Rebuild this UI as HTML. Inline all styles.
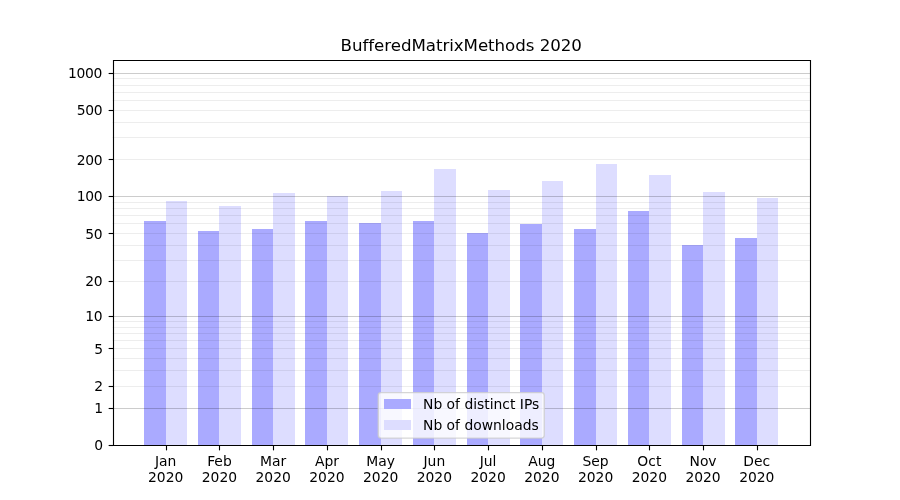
<!DOCTYPE html>
<html><head><meta charset="utf-8"><title>BufferedMatrixMethods 2020</title>
<style>html,body{margin:0;padding:0;background:#fff}body{width:900px;height:500px;overflow:hidden}</style></head>
<body>
<svg width="900" height="500" viewBox="0 0 900 500" style="display:block;font-family:'DejaVu Sans','Liberation Sans',sans-serif;font-variant-ligatures:none">
<rect width="900" height="500" fill="#fff"/>
<g shape-rendering="crispEdges">
<rect x="144" y="221" width="22" height="224" fill="#aaaaff"/>
<rect x="166" y="201" width="21" height="244" fill="#ddddff"/>
<rect x="198" y="231" width="21" height="214" fill="#aaaaff"/>
<rect x="219" y="206" width="22" height="239" fill="#ddddff"/>
<rect x="252" y="229" width="21" height="216" fill="#aaaaff"/>
<rect x="273" y="193" width="22" height="252" fill="#ddddff"/>
<rect x="305" y="221" width="22" height="224" fill="#aaaaff"/>
<rect x="327" y="196" width="21" height="249" fill="#ddddff"/>
<rect x="359" y="223" width="22" height="222" fill="#aaaaff"/>
<rect x="381" y="191" width="21" height="254" fill="#ddddff"/>
<rect x="413" y="221" width="21" height="224" fill="#aaaaff"/>
<rect x="434" y="169" width="22" height="276" fill="#ddddff"/>
<rect x="467" y="233" width="21" height="212" fill="#aaaaff"/>
<rect x="488" y="190" width="22" height="255" fill="#ddddff"/>
<rect x="520" y="224" width="22" height="221" fill="#aaaaff"/>
<rect x="542" y="181" width="21" height="264" fill="#ddddff"/>
<rect x="574" y="229" width="22" height="216" fill="#aaaaff"/>
<rect x="596" y="164" width="21" height="281" fill="#ddddff"/>
<rect x="628" y="211" width="21" height="234" fill="#aaaaff"/>
<rect x="649" y="175" width="22" height="270" fill="#ddddff"/>
<rect x="682" y="245" width="21" height="200" fill="#aaaaff"/>
<rect x="703" y="192" width="22" height="253" fill="#ddddff"/>
<rect x="735" y="238" width="22" height="207" fill="#aaaaff"/>
<rect x="757" y="198" width="21" height="247" fill="#ddddff"/>
</g>
<g stroke-width="1.111" fill="none">
<line x1="112.5" x2="810.0" y1="408.5" y2="408.5" stroke="rgba(0,0,0,0.2)"/>
<line x1="112.5" x2="810.0" y1="386.5" y2="386.5" stroke="rgba(0,0,0,0.07)"/>
<line x1="112.5" x2="810.0" y1="370.5" y2="370.5" stroke="rgba(0,0,0,0.07)"/>
<line x1="112.5" x2="810.0" y1="358.5" y2="358.5" stroke="rgba(0,0,0,0.07)"/>
<line x1="112.5" x2="810.0" y1="348.5" y2="348.5" stroke="rgba(0,0,0,0.07)"/>
<line x1="112.5" x2="810.0" y1="340.5" y2="340.5" stroke="rgba(0,0,0,0.07)"/>
<line x1="112.5" x2="810.0" y1="333.5" y2="333.5" stroke="rgba(0,0,0,0.07)"/>
<line x1="112.5" x2="810.0" y1="327.5" y2="327.5" stroke="rgba(0,0,0,0.07)"/>
<line x1="112.5" x2="810.0" y1="321.5" y2="321.5" stroke="rgba(0,0,0,0.07)"/>
<line x1="112.5" x2="810.0" y1="316.5" y2="316.5" stroke="rgba(0,0,0,0.2)"/>
<line x1="112.5" x2="810.0" y1="281.5" y2="281.5" stroke="rgba(0,0,0,0.07)"/>
<line x1="112.5" x2="810.0" y1="260.5" y2="260.5" stroke="rgba(0,0,0,0.07)"/>
<line x1="112.5" x2="810.0" y1="245.5" y2="245.5" stroke="rgba(0,0,0,0.07)"/>
<line x1="112.5" x2="810.0" y1="233.5" y2="233.5" stroke="rgba(0,0,0,0.07)"/>
<line x1="112.5" x2="810.0" y1="223.5" y2="223.5" stroke="rgba(0,0,0,0.07)"/>
<line x1="112.5" x2="810.0" y1="215.5" y2="215.5" stroke="rgba(0,0,0,0.07)"/>
<line x1="112.5" x2="810.0" y1="208.5" y2="208.5" stroke="rgba(0,0,0,0.07)"/>
<line x1="112.5" x2="810.0" y1="202.5" y2="202.5" stroke="rgba(0,0,0,0.07)"/>
<line x1="112.5" x2="810.0" y1="196.5" y2="196.5" stroke="rgba(0,0,0,0.2)"/>
<line x1="112.5" x2="810.0" y1="159.5" y2="159.5" stroke="rgba(0,0,0,0.07)"/>
<line x1="112.5" x2="810.0" y1="137.5" y2="137.5" stroke="rgba(0,0,0,0.07)"/>
<line x1="112.5" x2="810.0" y1="122.5" y2="122.5" stroke="rgba(0,0,0,0.07)"/>
<line x1="112.5" x2="810.0" y1="110.5" y2="110.5" stroke="rgba(0,0,0,0.07)"/>
<line x1="112.5" x2="810.0" y1="100.5" y2="100.5" stroke="rgba(0,0,0,0.07)"/>
<line x1="112.5" x2="810.0" y1="92.5" y2="92.5" stroke="rgba(0,0,0,0.07)"/>
<line x1="112.5" x2="810.0" y1="85.5" y2="85.5" stroke="rgba(0,0,0,0.07)"/>
<line x1="112.5" x2="810.0" y1="78.5" y2="78.5" stroke="rgba(0,0,0,0.07)"/>
<line x1="112.5" x2="810.0" y1="73.5" y2="73.5" stroke="rgba(0,0,0,0.2)"/>
</g>
<g stroke="#000" stroke-width="1.111">
<line x1="108.64" x2="113.5" y1="445.5" y2="445.5"/>
<line x1="108.64" x2="113.5" y1="408.5" y2="408.5"/>
<line x1="108.64" x2="113.5" y1="386.5" y2="386.5"/>
<line x1="108.64" x2="113.5" y1="348.5" y2="348.5"/>
<line x1="108.64" x2="113.5" y1="316.5" y2="316.5"/>
<line x1="108.64" x2="113.5" y1="281.5" y2="281.5"/>
<line x1="108.64" x2="113.5" y1="233.5" y2="233.5"/>
<line x1="108.64" x2="113.5" y1="196.5" y2="196.5"/>
<line x1="108.64" x2="113.5" y1="159.5" y2="159.5"/>
<line x1="108.64" x2="113.5" y1="110.5" y2="110.5"/>
<line x1="108.64" x2="113.5" y1="73.5" y2="73.5"/>
<line x1="166.5" x2="166.5" y1="445.5" y2="450.36"/>
<line x1="219.5" x2="219.5" y1="445.5" y2="450.36"/>
<line x1="273.5" x2="273.5" y1="445.5" y2="450.36"/>
<line x1="327.5" x2="327.5" y1="445.5" y2="450.36"/>
<line x1="381.5" x2="381.5" y1="445.5" y2="450.36"/>
<line x1="434.5" x2="434.5" y1="445.5" y2="450.36"/>
<line x1="488.5" x2="488.5" y1="445.5" y2="450.36"/>
<line x1="542.5" x2="542.5" y1="445.5" y2="450.36"/>
<line x1="596.5" x2="596.5" y1="445.5" y2="450.36"/>
<line x1="649.5" x2="649.5" y1="445.5" y2="450.36"/>
<line x1="703.5" x2="703.5" y1="445.5" y2="450.36"/>
<line x1="757.5" x2="757.5" y1="445.5" y2="450.36"/>
</g>
<path d="M113.5 59.94V446.06M810.5 59.94V446.06M112.94 60.5H811.06M112.94 445.5H811.06" stroke="#000" stroke-width="1.111" fill="none"/>
<g font-size="13.889px" text-anchor="end" fill="#000" letter-spacing="-0.3">
<text x="102.88" y="450.20">0</text>
<text x="102.88" y="412.84">1</text>
<text x="102.88" y="390.99">2</text>
<text x="102.88" y="353.63">5</text>
<text x="102.38" y="320.96">10</text>
<text x="102.38" y="286.11">20</text>
<text x="102.38" y="238.99">50</text>
<text x="102.28" y="201.46">100</text>
<text x="102.28" y="164.67">200</text>
<text x="102.28" y="115.15">500</text>
<text x="102.08" y="77.85">1000</text>
</g>
<g font-size="13.889px" text-anchor="middle" fill="#000">
<text x="165.70" y="466.0">Jan</text><text x="165.70" y="482.0">2020</text>
<text x="219.44" y="466.0">Feb</text><text x="219.44" y="482.0">2020</text>
<text x="273.17" y="466.0">Mar</text><text x="273.17" y="482.0">2020</text>
<text x="326.91" y="466.0">Apr</text><text x="326.91" y="482.0">2020</text>
<text x="380.65" y="466.0">May</text><text x="380.65" y="482.0">2020</text>
<text x="434.38" y="466.0">Jun</text><text x="434.38" y="482.0">2020</text>
<text x="488.12" y="466.0">Jul</text><text x="488.12" y="482.0">2020</text>
<text x="541.85" y="466.0">Aug</text><text x="541.85" y="482.0">2020</text>
<text x="595.59" y="466.0">Sep</text><text x="595.59" y="482.0">2020</text>
<text x="649.33" y="466.0">Oct</text><text x="649.33" y="482.0">2020</text>
<text x="703.06" y="466.0">Nov</text><text x="703.06" y="482.0">2020</text>
<text x="756.80" y="466.0">Dec</text><text x="756.80" y="482.0">2020</text>
</g>
<text x="461.25" y="51.3" font-size="16.667px" text-anchor="middle" fill="#000" textLength="241.3" lengthAdjust="spacing">BufferedMatrixMethods 2020</text>
<rect x="378.25" y="392.6" width="166" height="45.5" rx="2.8" ry="2.8" fill="rgba(255,255,255,0.8)" stroke="rgba(204,204,204,0.8)" stroke-width="1.389"/>
<rect x="384" y="399" width="27" height="10" fill="#aaaaff" shape-rendering="crispEdges"/>
<rect x="384" y="420" width="27" height="10" fill="#ddddff" shape-rendering="crispEdges"/>
<g font-size="13.889px" fill="#000"><text x="423.0" y="409">Nb of distinct IPs</text><text x="423.0" y="429.8">Nb of downloads</text></g>
</svg>
</body></html>
